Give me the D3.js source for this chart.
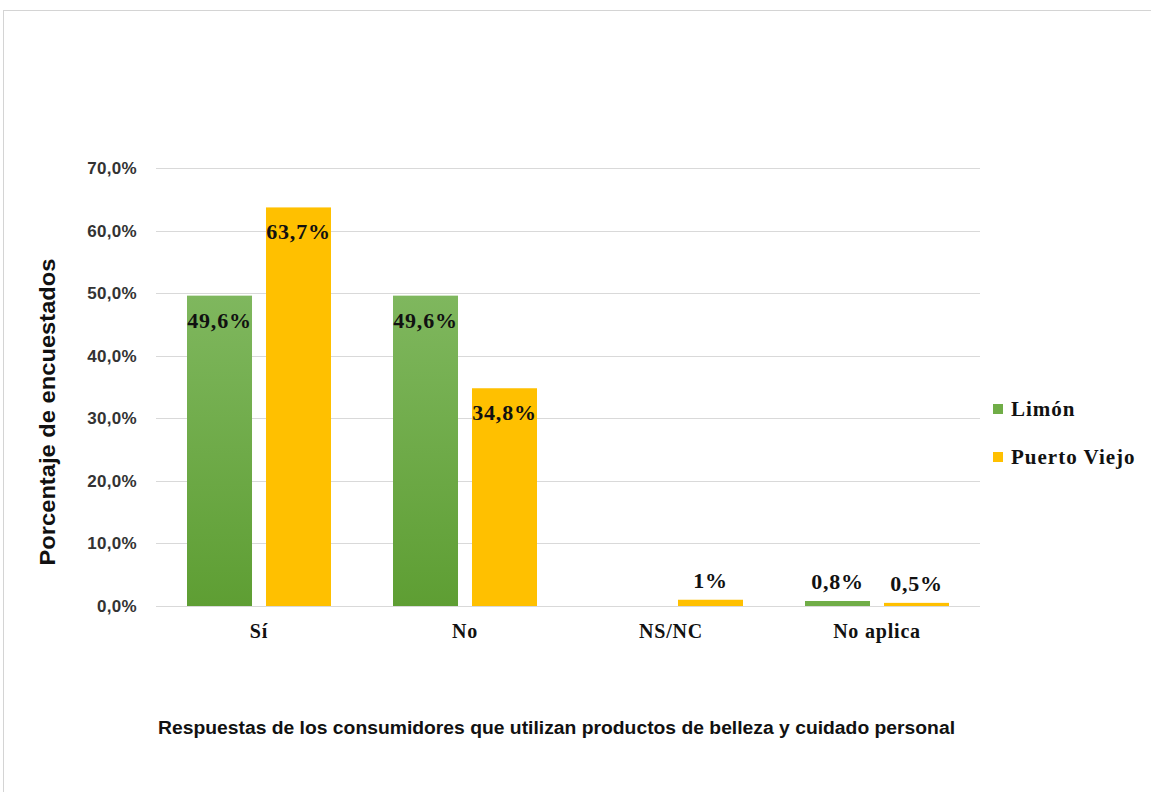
<!DOCTYPE html>
<html>
<head>
<meta charset="utf-8">
<script src="https://cdn.jsdelivr.net/npm/d3@7"></script>
<style>
  body { margin:0; background:#fff; }
</style>
</head>
<body>
<div id="chart"></div>
<script>
const categories = ["Sí", "No", "NS/NC", "No aplica"]
const seriesNames = ["Limón", "Puerto Viejo"]
const limon = [49.6, 49.6, 0, 0.8]
const puertoViejo = [63.7, 34.8, 1, 0.5]
const limonLabels = ["49,6%", "49,6%", "", "0,8%"]
const puertoViejoLabels = ["63,7%", "34,8%", "1%", "0,5%"]
const yTicks = [0, 10, 20, 30, 40, 50, 60, 70]

const W = 1151, H = 792
const margin = {top:168, left:156, right:171, bottom:186}
const width = W - margin.left - margin.right,
      height = H - margin.top - margin.bottom

const svg = d3.select("#chart")
  .append("svg")
    .attr("width", W)
    .attr("height", H)

// frame
svg.append("rect")
  .attr("x", 3.5).attr("y", 10.5)
  .attr("width", 1170).attr("height", 800)
  .attr("fill", "none")
  .attr("stroke", "#d4d4d4")

const defs = svg.append("defs")
const grad = defs.append("linearGradient")
  .attr("id", "green-grad")
  .attr("x1", 0).attr("y1", 0).attr("x2", 0).attr("y2", 1)
grad.append("stop").attr("offset", "0%").attr("stop-color", "#7fb75e")
grad.append("stop").attr("offset", "100%").attr("stop-color", "#5e9e33")

const colors = ["url(#green-grad)", "#ffc000"]
const legendColors = ["#70ad47", "#ffc000"]

const g = svg.append("g")
  .attr("transform", "translate(" + margin.left + "," + margin.top + ")")

const x0 = d3.scaleBand().domain(categories).range([0, width])
const x1 = d3.scaleBand().domain(seriesNames).range([31, 175]).paddingInner(0.177)
const y = d3.scaleLinear().domain([0, 70]).range([height, 0])

// gridlines
g.selectAll(".grid")
  .data(yTicks)
  .enter()
  .append("line")
    .attr("x1", 0).attr("x2", width)
    .attr("y1", d => Math.round(y(d)) + 0.5)
    .attr("y2", d => Math.round(y(d)) + 0.5)
    .style("stroke", "#d9d9d9")
    .style("stroke-width", 1)

// y tick labels
g.append("g")
  .call(d3.axisLeft(y).tickValues(yTicks).tickSize(0).tickPadding(19)
    .tickFormat(d => d.toFixed(1).replace(".", ",") + "%"))
  .call(gg => gg.select(".domain").remove())
  .selectAll("text")
    .style("font-family", "'Liberation Sans', Arial, sans-serif")
    .style("font-size", "17px")
    .style("font-weight", "bold")
    .style("letter-spacing", "0.3px")
    .style("fill", "#333")

const rows = categories.map((c, i) => ({
  cat: c,
  vals: [
    {s: seriesNames[0], v: limon[i], lab: limonLabels[i], k: 0},
    {s: seriesNames[1], v: puertoViejo[i], lab: puertoViejoLabels[i], k: 1}
  ]
}))

const grp = g.selectAll(".grp")
  .data(rows)
  .enter()
  .append("g")
    .attr("transform", d => "translate(" + x0(d.cat) + ",0)")

grp.selectAll("rect")
  .data(d => d.vals.filter(v => v.v > 0))
  .enter()
  .append("rect")
    .attr("x", d => x1(d.s))
    .attr("width", x1.bandwidth())
    .attr("y", d => y(d.v))
    .attr("height", d => y(0) - y(d.v))
    .attr("fill", d => d.v < 5 ? legendColors[d.k] : colors[d.k])

grp.selectAll("text")
  .data(d => d.vals.filter(v => v.lab))
  .enter()
  .append("text")
    .attr("x", d => x1(d.s) + x1.bandwidth() / 2)
    .attr("y", d => d.v > 10 ? y(d.v) + 32 : y(d.v) - 12)
    .attr("text-anchor", "middle")
    .style("font-family", "'Liberation Serif', 'Times New Roman', serif")
    .style("font-size", "22px")
    .style("font-weight", "bold")
    .style("letter-spacing", "0.8px")
    .style("fill", "#111")
    .text(d => d.lab)

// category labels
g.append("g")
  .attr("transform", "translate(0," + height + ")")
  .call(d3.axisBottom(x0).tickSize(0).tickPadding(18))
  .call(gg => gg.select(".domain").remove())
  .selectAll("text")
    .style("font-family", "'Liberation Serif', 'Times New Roman', serif")
    .style("font-size", "20px")
    .style("font-weight", "bold")
    .style("letter-spacing", "0.8px")
    .style("fill", "#111")

// y axis title
svg.append("text")
  .attr("transform", "translate(55,412) rotate(-90)")
  .attr("text-anchor", "middle")
  .attr("textLength", 307)
  .attr("lengthAdjust", "spacingAndGlyphs")
  .style("font-family", "'Liberation Sans', Arial, sans-serif")
  .style("font-size", "22px")
  .style("font-weight", "bold")
  .style("fill", "#111")
  .text("Porcentaje de encuestados")

// x axis title
svg.append("text")
  .attr("x", 158)
  .attr("y", 734)
  .attr("textLength", 797)
  .attr("lengthAdjust", "spacingAndGlyphs")
  .style("font-family", "'Liberation Sans Narrow', 'Arial Narrow', 'Liberation Sans', sans-serif")
  .style("font-size", "18px")
  .style("font-weight", "bold")
  .style("fill", "#111")
  .text("Respuestas de los consumidores que utilizan productos de belleza y cuidado personal")

// legend
const leg = svg.selectAll(".leg")
  .data(seriesNames)
  .enter()
  .append("g")
    .attr("transform", (d, i) => "translate(993," + (404 + i * 48) + ")")
leg.append("rect")
  .attr("width", 10).attr("height", 10)
  .attr("fill", (d, i) => legendColors[i])
leg.append("text")
  .attr("x", 18)
  .attr("y", 12)
  .style("font-family", "'Liberation Serif', 'Times New Roman', serif")
  .style("font-size", "21px")
  .style("font-weight", "bold")
  .style("letter-spacing", "1px")
  .style("fill", "#111")
  .text(d => d)
</script>
</body>
</html>
